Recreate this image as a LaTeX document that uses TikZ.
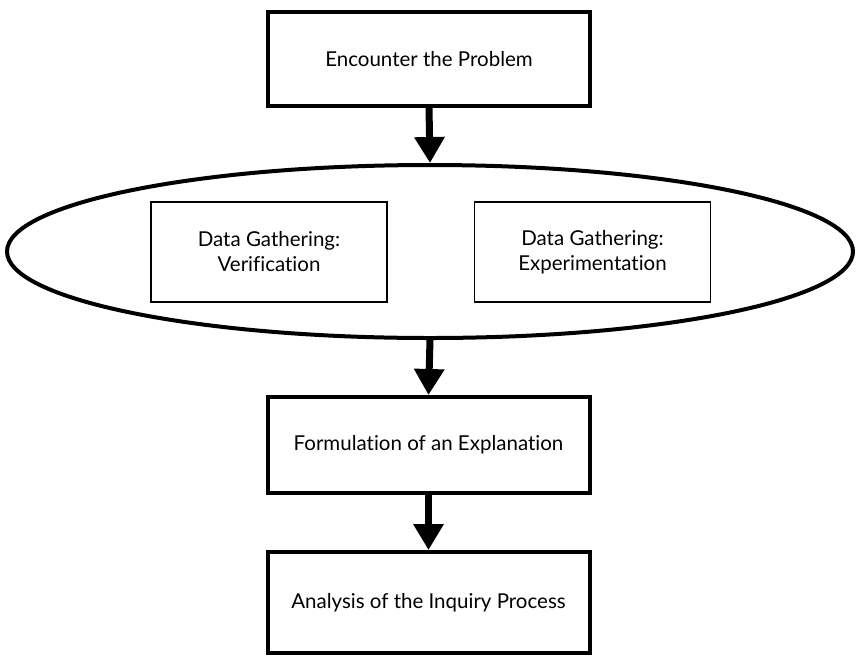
\documentclass[tikz,border=0pt]{standalone}
\usepackage{fontspec}
\setmainfont{Lato}[RawFeature=-liga]
\usetikzlibrary{arrows.meta,shapes.geometric}
\begin{document}
\begin{tikzpicture}[x=1pt,y=-1pt,
  mainbox/.style={draw=black,line width=4pt,minimum width=322pt,inner sep=0pt,font=\fontsize{20.5}{25}\selectfont,align=center},
  subbox/.style={draw=black,line width=1.8pt,minimum width=236pt,minimum height=100pt,inner sep=0pt,font=\fontsize{20.5}{25}\selectfont,align=center},
  flow/.style={line width=7pt,-{Triangle[width=29pt,length=26pt]}}]
\useasboundingbox (0,0) rectangle (856,657);
\node[mainbox,minimum height=94pt] (enc) at (429,59) {Encounter the Problem};
\node[draw=black,line width=4pt,ellipse,minimum width=846pt,minimum height=173pt,inner sep=0pt] (ell) at (430,251.5) {};
\node[subbox] (ver) at (269,252) {Data Gathering:\\Verification};
\node[subbox] (exp) at (592.5,252) {Data Gathering:\\Experimentation};
\node[mainbox,minimum height=96pt] (form) at (428.5,445) {Formulation of an Explanation};
\node[mainbox,minimum height=101pt] (ana) at (428.5,602.5) {Analysis of the Inquiry Process};
\draw[flow] (enc.south) -- (ell.north);
\draw[flow] (ell.south) -- (form.north);
\draw[flow] (form.south) -- (ana.north);
\end{tikzpicture}
\end{document}
